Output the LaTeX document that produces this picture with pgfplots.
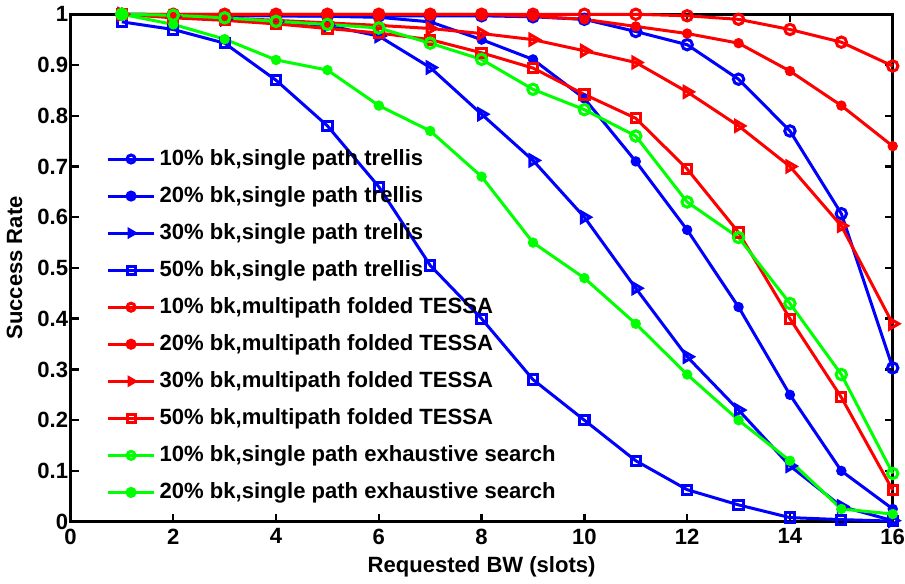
\documentclass[border=0pt]{standalone}
\usepackage{pgfplots}
\pgfplotsset{compat=1.18}
\usepackage{fontspec}
\setmainfont{Liberation Sans}
\definecolor{mblue}{RGB}{0,0,255}
\definecolor{mred}{RGB}{255,0,0}
\definecolor{mgreen}{RGB}{0,255,0}
\begin{document}
\begin{tikzpicture}
\begin{axis}[
  width=410pt, height=253pt, scale only axis,
  xmin=0, xmax=16, ymin=0, ymax=1,
  xtick={0,2,...,16},
  ytick={0,0.1,0.2,0.3,0.4,0.5,0.6,0.7,0.8,0.9,1},
  yticklabels={0,0.1,0.2,0.3,0.4,0.5,0.6,0.7,0.8,0.9,1},
  /pgf/number format/assume math mode=true,
  tick label style={font=\bfseries\fontsize{11}{12}\selectfont},
  xticklabel style={inner xsep=0pt},
  yticklabel style={inner xsep=1pt},
  label style={font=\bfseries\fontsize{11}{12}\selectfont},
  xlabel={Requested BW (slots)},
  ylabel={Success Rate},
  xlabel style={yshift=1pt},
  ylabel style={yshift=3pt},
  axis line style={line width=1.5pt},
  major tick style={line width=1.2pt, black},
  major tick length=4pt,
  tick align=inside,
  every axis plot/.append style={line width=1.5pt},
  legend style={draw=none, fill=none, at={(0.036,0.75)}, anchor=north west,
    font=\bfseries\fontsize{11}{12}\selectfont, row sep=5pt},
  legend cell align=left,
  legend image code/.code={\draw[mark repeat=2,mark phase=2, mark size=2pt] plot coordinates {(0pt,0pt)(11.5pt,0pt)(23pt,0pt)};},
  clip=false,
]
% 10% trellis
\addplot[color=mblue, mark=o, mark size=2.6pt] coordinates {
(1,1.0)(2,0.999)(3,0.998)(4,0.997)(5,0.997)(6,0.997)(7,0.997)(8,0.997)(9,0.995)(10,0.99)(11,0.966)(12,0.94)(13,0.872)(14,0.77)(15,0.607)(16,0.303)};
\addlegendentry{10\% bk,single path trellis}
% 20% trellis
\addplot[color=mblue, mark=*, mark size=1.8pt] coordinates {
(1,1.0)(2,0.999)(3,0.998)(4,0.997)(5,0.996)(6,0.994)(7,0.985)(8,0.95)(9,0.911)(10,0.834)(11,0.71)(12,0.575)(13,0.423)(14,0.25)(15,0.10)(16,0.025)};
\addlegendentry{20\% bk,single path trellis}
% 30% trellis
\addplot[color=mblue, mark=triangle, mark size=3pt, mark options={rotate=-90}] coordinates {
(1,1.0)(2,0.995)(3,0.99)(4,0.985)(5,0.978)(6,0.957)(7,0.895)(8,0.803)(9,0.712)(10,0.60)(11,0.46)(12,0.325)(13,0.22)(14,0.11)(15,0.03)(16,0.002)};
\addlegendentry{30\% bk,single path trellis}
% 50% trellis
\addplot[color=mblue, mark=square, mark size=2.3pt] coordinates {
(1,0.985)(2,0.97)(3,0.943)(4,0.87)(5,0.78)(6,0.66)(7,0.505)(8,0.40)(9,0.28)(10,0.20)(11,0.12)(12,0.063)(13,0.033)(14,0.008)(15,0.004)(16,0.001)};
\addlegendentry{50\% bk,single path trellis}
% 10% TESSA
\addplot[color=mred, mark=o, mark size=2.6pt] coordinates {
(1,1.0)(2,1.0)(3,1.0)(4,1.0)(5,1.0)(6,1.0)(7,1.0)(8,1.0)(9,1.0)(10,1.0)(11,1.0)(12,0.997)(13,0.99)(14,0.97)(15,0.945)(16,0.898)};
\addlegendentry{10\% bk,multipath folded TESSA}
% 20% TESSA
\addplot[color=mred, mark=*, mark size=1.8pt] coordinates {
(1,1.0)(2,1.0)(3,1.0)(4,1.0)(5,1.0)(6,1.0)(7,1.0)(8,1.0)(9,0.996)(10,0.99)(11,0.976)(12,0.962)(13,0.943)(14,0.888)(15,0.82)(16,0.74)};
\addlegendentry{20\% bk,multipath folded TESSA}
% 30% TESSA
\addplot[color=mred, mark=triangle, mark size=3pt, mark options={rotate=-90}] coordinates {
(1,1.0)(2,0.996)(3,0.993)(4,0.988)(5,0.983)(6,0.978)(7,0.972)(8,0.962)(9,0.95)(10,0.928)(11,0.905)(12,0.847)(13,0.78)(14,0.70)(15,0.583)(16,0.39)};
\addlegendentry{30\% bk,multipath folded TESSA}
% 50% TESSA
\addplot[color=mred, mark=square, mark size=2.3pt] coordinates {
(1,1.0)(2,0.993)(3,0.988)(4,0.981)(5,0.972)(6,0.963)(7,0.95)(8,0.924)(9,0.894)(10,0.842)(11,0.795)(12,0.695)(13,0.57)(14,0.40)(15,0.245)(16,0.062)};
\addlegendentry{50\% bk,multipath folded TESSA}
% 10% exhaustive
\addplot[color=mgreen, mark=o, mark size=2.6pt] coordinates {
(1,1.0)(2,0.998)(3,0.993)(4,0.986)(5,0.98)(6,0.973)(7,0.943)(8,0.911)(9,0.852)(10,0.812)(11,0.76)(12,0.63)(13,0.56)(14,0.43)(15,0.29)(16,0.095)};
\addlegendentry{10\% bk,single path exhaustive search}
% 20% exhaustive
\addplot[color=mgreen, mark=*, mark size=1.8pt] coordinates {
(1,1.0)(2,0.98)(3,0.951)(4,0.91)(5,0.89)(6,0.82)(7,0.77)(8,0.68)(9,0.55)(10,0.48)(11,0.39)(12,0.29)(13,0.20)(14,0.12)(15,0.025)(16,0.015)};
\addlegendentry{20\% bk,single path exhaustive search}
\end{axis}
\end{tikzpicture}
\end{document}
